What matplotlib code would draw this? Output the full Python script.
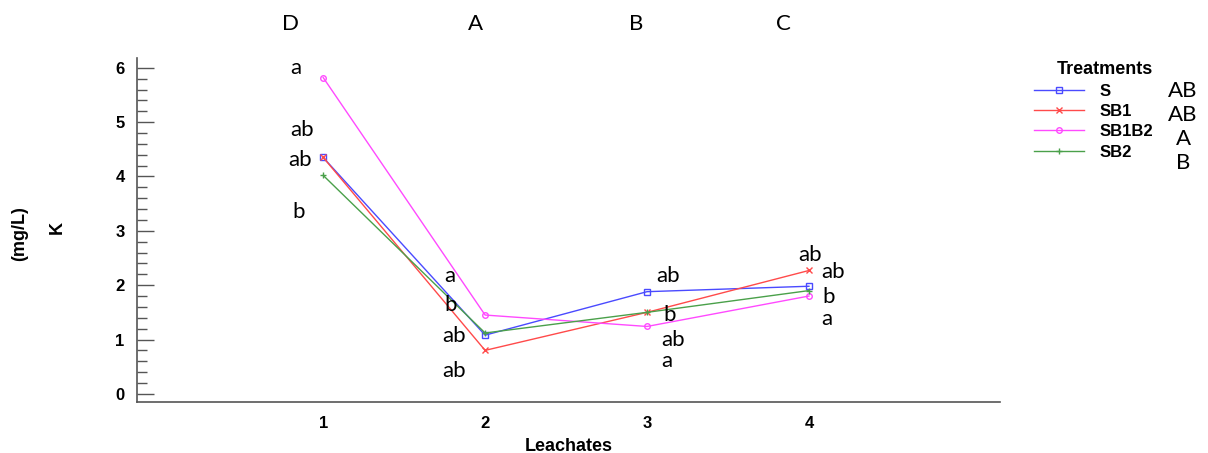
import matplotlib
matplotlib.use("Agg")
import matplotlib.pyplot as plt

leachates = [1, 2, 3, 4]
treatments = ["S", "SB1", "SB1B2", "SB2"]
S = [4.35, 1.08, 1.88, 1.98]
SB1 = [4.35, 0.80, 1.50, 2.27]
SB1B2 = [5.82, 1.45, 1.24, 1.80]
SB2 = [4.02, 1.12, 1.50, 1.90]
series = [S, SB1, SB1B2, SB2]
colors = ["#4a4aff", "#ff4a4a", "#ff4aff", "#4aa04a"]
markers = ["s", "x", "o", "+"]

top_letters = ["D", "A", "B", "C"]
top_letter_px = [290, 476, 636, 783]
treat_letters = ["AB", "AB", "A", "B"]
# (text, x, y) in data coords
point_letters = [
    ("a", 0.83, 6.00), ("ab", 0.87, 4.85), ("ab", 0.86, 4.30), ("b", 0.85, 3.35),
    ("a", 1.78, 2.16), ("b", 1.79, 1.64), ("ab", 1.81, 1.06), ("ab", 1.81, 0.42),
    ("ab", 3.13, 2.16), ("b", 3.14, 1.45), ("ab", 3.16, 1.00), ("a", 3.12, 0.60),
    ("ab", 4.01, 2.55), ("ab", 4.15, 2.24), ("b", 4.12, 1.78), ("a", 4.11, 1.38),
]

sans = ["Liberation Sans", "DejaVu Sans"]

fig = plt.figure(figsize=(12.08, 4.53), dpi=100)
ax = fig.add_axes([137/1208, 1-402/453, (1000-137)/1208, (402-58)/453])

for vals, c, m, name in zip(series, colors, markers, treatments):
    mfc = "none" if m in ("s", "o") else c
    ax.plot(leachates, vals, color=c, lw=1.0, marker=m, ms=4, mfc=mfc, mec=c, mew=1.0, label=name)

ax.set_xlim(-0.15, 5.18)
ax.set_ylim(-0.15, 6.18)
ax.set_xticks(leachates)
ax.set_yticks(range(7))
ax.set_yticks([i * 0.2 for i in range(31)], minor=True)
for s in ["top", "right"]:
    ax.spines[s].set_visible(False)
for s in ["left", "bottom"]:
    ax.spines[s].set_color("#555555")
    ax.spines[s].set_linewidth(1.2)
ax.tick_params(axis="y", which="major", direction="in", length=12.5, width=1, color="#555555", pad=9)
ax.tick_params(axis="y", which="minor", direction="in", length=7, width=1, color="#555555")
ax.tick_params(axis="x", length=0, pad=10)
for lab in ax.get_xticklabels() + ax.get_yticklabels():
    lab.set_fontfamily(sans)
    lab.set_fontweight("bold")
    lab.set_fontsize(12)
ax.set_xlabel("Leachates", fontfamily=sans, fontweight="bold", fontsize=13, labelpad=5)

fig.text(20/1208, 1-234/453, "(mg/L)", rotation=90, ha="center", va="center",
         fontfamily=sans, fontweight="bold", fontsize=13)
fig.text(57/1208, 1-227/453, "K", rotation=90, ha="center", va="center",
         fontfamily=sans, fontweight="bold", fontsize=13)

lettfont = dict(fontfamily="Lato", fontsize=16, ha="center", va="center")
for px, t in zip(top_letter_px, top_letters):
    fig.text(px / 1208, 1-24/453, t, **lettfont)
for t, x, y in point_letters:
    ax.text(x, y, t, clip_on=False, **lettfont)

leg = ax.legend(title="Treatments", loc="upper left", bbox_to_anchor=(1026/1208, 1-53/453),
                bbox_transform=fig.transFigure, frameon=False, handlelength=3.0,
                prop=dict(family="Liberation Sans", weight="bold", size=12),
                labelspacing=0.32, handletextpad=0.9, borderpad=0)
leg.get_title().set_fontweight("bold")
leg.get_title().set_fontfamily("Liberation Sans")
leg.get_title().set_fontsize(13)
leg._legend_box.align = "right"
for i, t in enumerate(treat_letters):
    fig.text(1183/1208, 1-(91 + i*24)/453, t, **lettfont)

fig.savefig("out.png", dpi=100)
